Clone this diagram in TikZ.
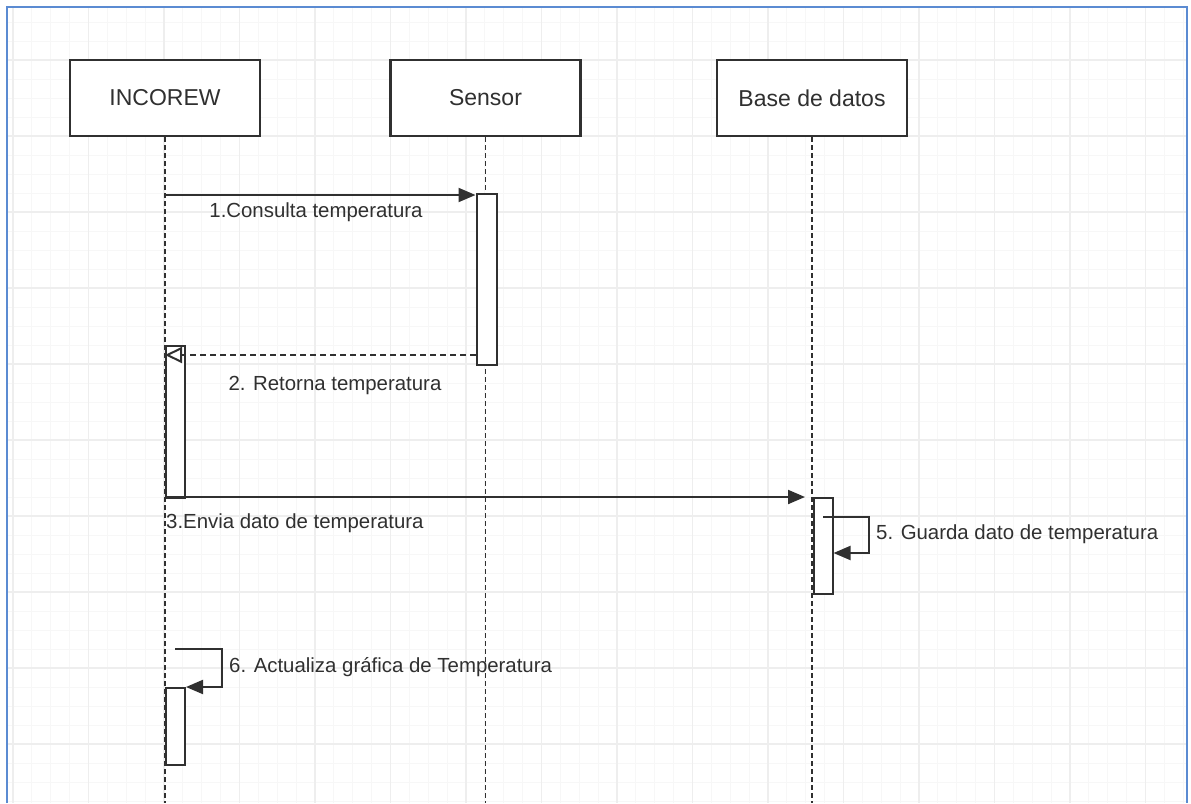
\documentclass[tikz,border=0pt]{standalone}
\usepackage{fontspec}
\setmainfont{Liberation Sans}
\usetikzlibrary{arrows.meta}
\definecolor{ink}{HTML}{303030}
\definecolor{frameblue}{HTML}{5B8BD2}
\definecolor{gridmaj}{HTML}{EEEEEE}
\definecolor{gridmin}{HTML}{F7F7F7}
\tikzset{
  actor/.style={draw=ink, line width=2.2pt, fill=white, minimum width=190pt, minimum height=76pt,
    inner sep=0pt, text=ink, font=\fontsize{23}{27}\selectfont},
  life/.style={draw=ink, line width=1.8pt, dash pattern=on 4.5pt off 3.5pt},
  actbox/.style={draw=ink, line width=2pt, fill=white, inner sep=0pt, anchor=north west},
  msg/.style={draw=ink, line width=2pt, -{Triangle[length=17pt,width=14pt]}},
  ret/.style={draw=ink, line width=2pt, dash pattern=on 6pt off 4pt, -{Triangle[open,length=17pt,width=16pt,fill=white]}},
  lbl/.style={text=ink, font=\fontsize{20.4}{24}\selectfont, inner sep=0pt},
}
\begin{document}
\begin{tikzpicture}[x=1pt,y=-1pt]
\useasboundingbox (0,0) rectangle (1191,803);
\fill[white] (0,0) rectangle (1191,803);
% grid
\foreach \i in {-4,...,62} {
  \draw[gridmin, line width=0.8pt] ({88.5+\i*18.875},7) -- ({88.5+\i*18.875},803);
}
\foreach \j in {-2,...,40} {
  \draw[gridmin, line width=0.8pt] (7,{60+\j*19}) -- (1187,{60+\j*19});
}
\foreach \i in {-1,...,15} {
  \draw[gridmaj, line width=1.2pt] ({88.5+\i*75.5},7) -- ({88.5+\i*75.5},803);
}
\foreach \j in {0,...,10} {
  \draw[gridmaj, line width=1.2pt] (7,{60+\j*76}) -- (1187,{60+\j*76});
}
\fill[white] (0,0) rectangle (6,803);
\fill[white] (0,0) rectangle (1191,6);
\fill[white] (1188,0) rectangle (1191,803);
\draw[frameblue, line width=2pt] (7,803) -- (7,7) -- (1187,7) -- (1187,803);

% actors
\node[actor] (inc) at (165,98) {INCOREW};
\node[actor] (sen) at (485.5,98) {Sensor};
\node[actor] (bd) at (812,98) {Base de datos};

% lifeline ends
\coordinate (incE) at (165,803);
\coordinate (senE) at (485.5,803);
\coordinate (bdE) at (812,803);
\draw[life] (inc.south) -- (incE);
\draw[life] (sen.south) -- (senE);
\draw[life] (bd.south) -- (bdE);

% activations
\node[actbox, minimum width=20pt, minimum height=171pt] (a1) at (475.5,193) {};
\node[actbox, minimum width=19pt, minimum height=152pt] (a2) at (165,345) {};
\node[actbox, minimum width=19pt, minimum height=96pt] (a3) at (812.5,497) {};
\node[actbox, minimum width=19pt, minimum height=77pt] (a6) at (165,687) {};

% message 1
\coordinate (m1s) at (165,195);
\draw[msg] (m1s) -- (m1s -| a1.west);
\node[lbl] (l1) at (316,212) {1.Consulta temperatura};

% message 2 (return)
\coordinate (m2s) at (475.5,355);
\draw[ret] (m2s) -- (m2s -| a2.west);
\node[lbl] (l2) at (335,385) {2. Retorna temperatura};

% message 3
\coordinate (m3s) at (165,497);
\coordinate (m3e) at (805,497);
\draw[msg] (m3s) -- (m3e);
\node[lbl, anchor=west] (l3) at (166,523) {3.Envia dato de temperatura};

% message 5 (self)
\coordinate (m5s) at (823,517);
\coordinate (m5t) at (869,553);
\draw[msg] (m5s) -- (m5s -| m5t) -- (m5t) -- (m5t -| a3.east);
\node[lbl, anchor=west] (l5) at (876,534) {5. Guarda dato de temperatura};

% message 6 (self)
\coordinate (m6s) at (175,649);
\coordinate (m6t) at (222,687);
\draw[msg] (m6s) -- (m6s -| m6t) -- (m6t) -- (m6t -| a6.east);
\node[lbl, anchor=west] (l6) at (229,667) {6. Actualiza gráfica de Temperatura};
\end{tikzpicture}
\end{document}
